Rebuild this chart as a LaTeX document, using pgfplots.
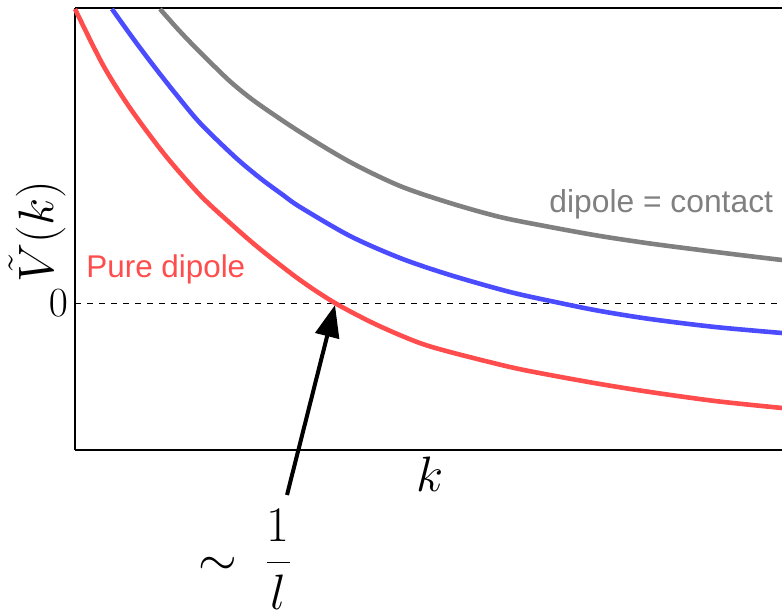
\documentclass[border=0pt]{standalone}
\usepackage{pgfplots}
\pgfplotsset{compat=1.18}
\usepackage{fontspec}
\newfontfamily\labelfont{Liberation Sans}
\usetikzlibrary{arrows.meta}

\definecolor{cred}{RGB}{255,76,76}
\definecolor{cblue}{RGB}{76,76,255}
\definecolor{cgray}{RGB}{128,128,128}

\begin{document}
\begin{tikzpicture}
\begin{axis}[
  scale only axis,
  width=353.5pt, height=221pt,
  xmin=0, xmax=707, ymin=-147, ymax=295,
  axis x line*=box, axis y line*=left,
  axis line style={line width=1pt, black},
  xtick=\empty, ytick={0}, yticklabels={$0$},
  major tick length=0pt,
  every tick label/.append style={font=\fontsize{20}{24}\selectfont},
  xlabel={$k$},
  xlabel style={at={(axis description cs:0.5021,-0.095)}, anchor=base,
                font=\fontsize{23}{28}\selectfont},
  clip=false,
]
% zero line
\addplot[black, dashed, line width=0.5pt] coordinates {(0,0) (707,0)};

% pure dipole
\addplot[cred, line width=2.3pt, smooth] coordinates {
  (0,294) (28,238) (55,195) (90,148) (125,108) (155,80) (185,54)
  (225,23) (260,0) (300,-21) (342,-39) (375,-49) (435,-64)
  (475,-72) (525,-81) (575,-89) (640,-98) (707,-105)
};
% intermediate
\addplot[cblue, line width=2.3pt, smooth] coordinates {
  (37,294) (57,266) (78,238) (100,210) (125,180) (160,146) (185,125)
  (208,108) (225,96) (275,67) (325,45) (375,28) (435,11) (485,0)
  (525,-8) (575,-16) (640,-24) (707,-30)
};
% dipole = contact
\addplot[cgray, line width=2.3pt, smooth] coordinates {
  (85,294) (100,277) (115,261) (140,236) (158,219) (182,200) (225,171)
  (275,141) (325,117) (375,100) (425,86) (475,76) (525,67) (575,59.5)
  (625,53) (665,48) (707,43)
};

\node[rotate=90, anchor=base, inner sep=0pt, font=\fontsize{24}{28}\selectfont]
  at (axis cs:-21,71) {$\tilde{V}(k)$};

\node[anchor=base west, text=cred, inner sep=0pt,
      font=\labelfont\fontsize{15.7}{18}\selectfont] at (axis cs:11,26) {Pure dipole};
\node[anchor=base west, text=cgray, inner sep=0pt,
      font=\labelfont\fontsize{15.9}{18}\selectfont] at (axis cs:474,90) {dipole = contact};

\draw[-{Triangle[length=16pt,width=12pt]}, line width=2pt]
  (axis cs:212,-192) -- (axis cs:260,-2);
\node[anchor=base, inner sep=0pt, font=\fontsize{23}{28}\selectfont]
  at (axis cs:170,-272) {$\displaystyle \sim\;\frac{1}{l}$};

\coordinate (bbsw) at (axis cs:-75,-308);
\coordinate (bbne) at (axis cs:707,303);
\end{axis}
\pgfresetboundingbox
\path (bbsw) rectangle (bbne);
\end{tikzpicture}
\end{document}
